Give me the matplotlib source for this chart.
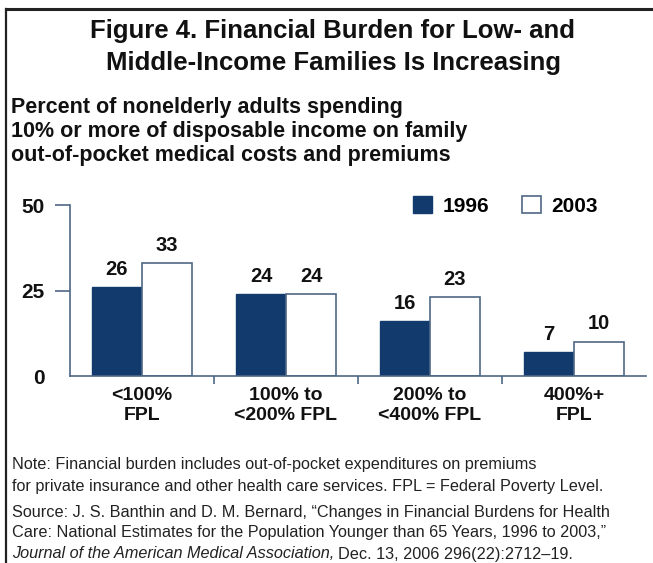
import matplotlib
matplotlib.use('Agg')
import matplotlib.pyplot as plt
from matplotlib.lines import Line2D
import numpy as np

plt.rcParams['font.family'] = ['Liberation Sans', 'DejaVu Sans']

# 数据
categories = ['<100%\nFPL', '100% to\n<200% FPL', '200% to\n<400% FPL', '400%+\nFPL']
years = ['1996', '2003']
vals_1996 = [26, 24, 16, 7]
vals_2003 = [33, 24, 23, 10]
yticks = [0, 25, 50]

navy = '#123a6c'
axis_col = '#4f6786'

W, H = 653, 563
fig = plt.figure(figsize=(W / 100, H / 100), dpi=100)


def fx(px):
    return px / W


def fy(py):
    return 1 - py / H


# 外框（上边和左边）
fig.add_artist(Line2D([fx(6), 1], [fy(9), fy(9)], color='#222222', lw=2.2, transform=fig.transFigure))
fig.add_artist(Line2D([fx(6), fx(6)], [fy(9), 0], color='#222222', lw=1.6, transform=fig.transFigure))

fig.text(fx(333), fy(31), 'Figure 4. Financial Burden for Low- and', ha='center', va='center',
         fontsize=18.5, fontweight='bold', color='#111111')
fig.text(fx(333), fy(63), 'Middle-Income Families Is Increasing', ha='center', va='center',
         fontsize=18.5, fontweight='bold', color='#111111')

subtitle = ['Percent of nonelderly adults spending',
            '10% or more of disposable income on family',
            'out-of-pocket medical costs and premiums']
for i, line in enumerate(subtitle):
    fig.text(fx(11), fy(108 + 24 * i), line, ha='left', va='center',
             fontsize=15.5, fontweight='bold', color='#111111')

ax = fig.add_axes([fx(70), fy(376), fx(646) - fx(70), fy(205) - fy(376)])
x = np.arange(len(categories))
bw = 50 / 144
b1 = ax.bar(x - bw / 2, vals_1996, bw, color=navy, edgecolor=navy, linewidth=1, label=years[0])
b2 = ax.bar(x + bw / 2, vals_2003, bw, color='white', edgecolor=axis_col, linewidth=1.2, label=years[1])

for bars, vals in ((b1, vals_1996), (b2, vals_2003)):
    for r, v in zip(bars, vals):
        ax.annotate(str(v), (r.get_x() + r.get_width() / 2, v), xytext=(0, 6),
                    textcoords='offset points', ha='center', va='bottom',
                    fontsize=14.5, fontweight='bold', color='#111111')

ax.set_xlim(-0.5, len(categories) - 0.5)
ax.set_ylim(0, 50)
for s in ('top', 'right'):
    ax.spines[s].set_visible(False)
for s in ('left', 'bottom'):
    ax.spines[s].set_color(axis_col)
    ax.spines[s].set_linewidth(1.2)

ax.set_yticks(yticks)
ax.set_yticklabels([str(t) for t in yticks], fontsize=15, fontweight='bold', color='#111111')
ax.tick_params(axis='y', length=11, width=1.2, color=axis_col, pad=7)
ax.yaxis.get_major_ticks()[0].tick1line.set_visible(False)

ax.set_xticks(x)
ax.set_xticklabels(categories, fontsize=14, fontweight='bold', color='#111111', linespacing=1.2)
ax.tick_params(axis='x', which='major', length=0, pad=8)
ax.set_xticks(x[:-1] + 0.5, minor=True)
ax.tick_params(axis='x', which='minor', length=6, width=1.2, color=axis_col)

leg = ax.legend(ncol=2, loc='center left', bbox_to_anchor=(fx(413), fy(206)),
                bbox_transform=fig.transFigure, frameon=False, borderpad=0, borderaxespad=0,
                handlelength=0.9, handleheight=0.9, handletextpad=0.5, columnspacing=1.6,
                prop={'size': 15, 'weight': 'bold'})

notes = [
    (465, 'Note: Financial burden includes out-of-pocket expenditures on premiums'),
    (486, 'for private insurance and other health care services. FPL = Federal Poverty Level.'),
    (512, 'Source: J. S. Banthin and D. M. Bernard, \u201cChanges in Financial Burdens for Health'),
    (533, 'Care: National Estimates for the Population Younger than 65 Years, 1996 to 2003,\u201d'),
]
for yy, t in notes:
    fig.text(fx(12), fy(yy), t, ha='left', va='center', fontsize=11.7, color='#222222')

t1 = fig.text(fx(12), fy(554), 'Journal of the American Medical Association,', ha='left', va='center',
              fontsize=11.7, style='italic', color='#222222')
fig.canvas.draw()
bb = t1.get_window_extent()
fig.text(bb.x1 / W + fx(4), fy(554), 'Dec. 13, 2006 296(22):2712\u201319.', ha='left', va='center',
         fontsize=11.7, color='#222222')

fig.savefig('out.png', dpi=100)
